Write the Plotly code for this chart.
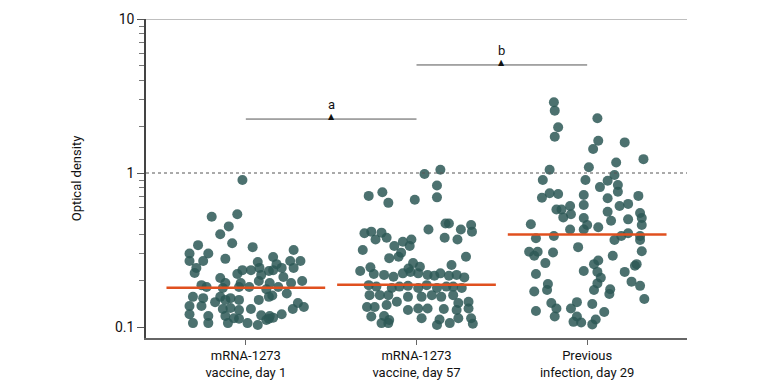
import math
import plotly.graph_objects as go

categories = ["mRNA-1273<br>vaccine, day 1", "mRNA-1273<br>vaccine, day 57", "Previous<br>infection, day 29"]
medians = [0.18, 0.188, 0.398]

g1_jitter = [-0.02, -0.20, -0.05, -0.10, -0.15, -0.08, -0.28, -0.33, -0.22, -0.25, -0.33, -0.12, 0.04, -0.29, -0.30,
             0.28, 0.16, 0.07, 0.18, 0.26, 0.32, 0.03, -0.02, -0.05, 0.08, 0.135, 0.16, 0.21, 0.28, -0.15,
             0.09, 0.22, 0.33, 0.265, 0.076, 0.14, -0.03, -0.12, -0.26, -0.23, 0.02, -0.04, -0.135, 0.19, 0.12,
             0.24, -0.31, -0.25, -0.15, -0.09, -0.04, -0.12, 0.135, 0.155, 0.076, -0.18, 0.305, 0.34, -0.33, -0.26,
             -0.135, -0.09, -0.04, 0.03, 0.275, -0.33, -0.22, -0.12, 0.09, 0.14, 0.21, -0.31, -0.22, -0.105, -0.07,
             -0.04, 0.01, 0.07, 0.12, 0.135, 0.16]
g1_values = [0.90, 0.52, 0.54, 0.45, 0.40, 0.35, 0.34, 0.30, 0.30, 0.268, 0.268, 0.277, 0.33, 0.242, 0.224,
             0.316, 0.285, 0.264, 0.256, 0.268, 0.268, 0.234, 0.234, 0.221, 0.242, 0.231, 0.234, 0.242, 0.242, 0.208,
             0.218, 0.211, 0.199, 0.193, 0.199, 0.193, 0.193, 0.193, 0.187, 0.182, 0.182, 0.182, 0.179, 0.182, 0.176,
             0.165, 0.157, 0.154, 0.157, 0.154, 0.150, 0.150, 0.157, 0.160, 0.150, 0.145, 0.143, 0.135, 0.137, 0.137,
             0.131, 0.133, 0.129, 0.131, 0.131, 0.121, 0.118, 0.118, 0.119, 0.118, 0.121, 0.106, 0.106, 0.106, 0.114,
             0.113, 0.106, 0.103, 0.111, 0.113, 0.115]

g2_jitter = [0.14, 0.047, 0.12, 0.12, -0.28, -0.20, -0.165, -0.01, 0.07, 0.17, 0.19, 0.165, 0.24, 0.26, 0.32,
             0.325, -0.305, -0.265, -0.205, -0.24, -0.175, -0.13, -0.08, -0.03, -0.04, -0.315, -0.09, -0.105, -0.16, 0.29,
             -0.02, 0.02, -0.047, 0.205, -0.33, -0.27, -0.25, -0.19, -0.135, -0.08, -0.035, 0.01, 0.065, 0.105, 0.14,
             0.19, 0.235, 0.28, -0.28, -0.235, -0.145, -0.10, -0.05, 0.01, 0.06, 0.12, 0.175, 0.215, 0.265, -0.275,
             -0.215, -0.165, -0.115, -0.05, 0.03, 0.09, 0.145, 0.215, 0.245, 0.305, -0.29, -0.245, -0.175, -0.05, 0.01,
             0.065, 0.16, 0.235, 0.305, -0.265, -0.19, -0.16, 0.03, 0.135, 0.245, 0.32, -0.205, -0.165, 0.12, 0.195,
             0.33]
g2_values = [1.05, 0.985, 0.83, 0.695, 0.71, 0.75, 0.64, 0.67, 0.43, 0.47, 0.47, 0.38, 0.37, 0.43, 0.46,
             0.416, 0.406, 0.416, 0.41, 0.37, 0.38, 0.336, 0.358, 0.37, 0.336, 0.316, 0.304, 0.286, 0.28, 0.286,
             0.26, 0.246, 0.24, 0.253, 0.231, 0.244, 0.221, 0.218, 0.212, 0.223, 0.228, 0.223, 0.218, 0.215, 0.223,
             0.215, 0.218, 0.21, 0.187, 0.183, 0.179, 0.183, 0.185, 0.179, 0.187, 0.179, 0.183, 0.183, 0.179, 0.161,
             0.161, 0.161, 0.146, 0.157, 0.157, 0.161, 0.157, 0.161, 0.143, 0.146, 0.135, 0.135, 0.139, 0.129, 0.132,
             0.132, 0.131, 0.129, 0.132, 0.117, 0.118, 0.111, 0.114, 0.112, 0.114, 0.114, 0.106, 0.106, 0.103, 0.106,
             0.105]

g3_jitter = [-0.195, -0.19, -0.17, -0.19, 0.06, 0.065, 0.035, 0.22, 0.33, 0.01, 0.17, 0.16, -0.22, -0.26, -0.01,
             0.12, 0.075, 0.18, 0.18, -0.22, -0.265, -0.17, -0.02, 0.12, 0.30, -0.18, -0.15, -0.10, -0.02, 0.19,
             0.24, -0.14, -0.095, 0.12, 0.14, 0.24, 0.31, 0.32, -0.33, -0.02, 0.0, 0.065, -0.10, -0.02, 0.32,
             -0.30, -0.195, 0.16, 0.20, 0.24, 0.31, 0.31, -0.34, -0.29, -0.31, -0.20, -0.053, 0.15, 0.32, -0.245,
             0.04, 0.065, 0.29, -0.30, -0.02, 0.06, 0.08, 0.22, 0.28, 0.26, -0.23, -0.235, -0.31, 0.06, 0.04,
             0.135, 0.13, 0.31, 0.335, -0.21, -0.18, -0.06, -0.095, 0.03, 0.10, -0.30, -0.19, -0.06, -0.08, -0.035,
             0.03, 0.05]
g3_values = [2.88, 2.54, 1.98, 1.72, 2.27, 1.62, 1.43, 1.58, 1.23, 1.09, 1.17, 0.97, 1.05, 0.90, 0.90,
             0.89, 0.81, 0.836, 0.756, 0.738, 0.69, 0.73, 0.72, 0.685, 0.71, 0.58, 0.58, 0.61, 0.62, 0.61,
             0.63, 0.515, 0.54, 0.56, 0.49, 0.50, 0.55, 0.51, 0.465, 0.51, 0.46, 0.444, 0.43, 0.43, 0.46,
             0.377, 0.39, 0.367, 0.39, 0.406, 0.367, 0.39, 0.308, 0.308, 0.29, 0.305, 0.33, 0.29, 0.31, 0.26,
             0.256, 0.27, 0.256, 0.221, 0.231, 0.228, 0.209, 0.228, 0.25, 0.197, 0.19, 0.174, 0.17, 0.192, 0.174,
             0.176, 0.164, 0.185, 0.152, 0.143, 0.132, 0.145, 0.132, 0.141, 0.125, 0.127, 0.117, 0.117, 0.108, 0.107,
             0.104, 0.112]

brackets = [(0, 1, 2.24, "a"), (1, 2, 5.03, "b")]
ytick_vals = [0.1, 1, 10]
ytick_text = ["0.1", "1", "10"]
minor_vals = [0.2, 0.3, 0.4, 0.5, 0.6, 0.7, 0.8, 0.9, 2, 3, 4, 5, 6, 7, 8, 9]

FONT = "Roboto, Liberation Sans, sans-serif"
DOT = "#2d5856"
ORANGE = "#e0501f"

fig = go.Figure()
for i, (jit, vals) in enumerate([(g1_jitter, g1_values), (g2_jitter, g2_values), (g3_jitter, g3_values)]):
    fig.add_trace(go.Scatter(
        x=[i + j for j in jit], y=vals, mode="markers",
        marker=dict(size=10, color=DOT, opacity=0.85, line=dict(width=0)),
        hoverinfo="skip", showlegend=False))

for i, m in enumerate(medians):
    fig.add_trace(go.Scatter(x=[i - 0.465, i + 0.465], y=[m, m], mode="lines",
                             line=dict(color=ORANGE, width=2.5), showlegend=False, hoverinfo="skip"))

for x0, x1, yv, lab in brackets:
    fig.add_trace(go.Scatter(x=[x0, x1], y=[yv, yv], mode="lines",
                             line=dict(color="#555555", width=1), showlegend=False, hoverinfo="skip"))
    fig.add_annotation(x=(x0 + x1) / 2, y=math.log10(yv), text="▲", showarrow=False,
                       yanchor="bottom", yshift=-4, font=dict(family="DejaVu Sans", size=8, color="#111111"))
    fig.add_annotation(x=(x0 + x1) / 2, y=math.log10(yv), text=lab, showarrow=False,
                       yanchor="bottom", yshift=5, font=dict(family=FONT, size=13, color="#111111"))

fig.add_shape(type="line", xref="paper", x0=0, x1=1, yref="y", y0=1, y1=1,
              line=dict(color="#555555", width=1, dash="dot"))
fig.add_shape(type="line", xref="paper", x0=0, x1=1, yref="y", y0=10, y1=10,
              line=dict(color="#aaaaaa", width=1.5))

fig.update_layout(
    width=780, height=386,
    margin=dict(l=146, r=93, t=19, b=48),
    paper_bgcolor="white", plot_bgcolor="white",
    font=dict(family=FONT, size=13, color="#111111"),
    xaxis=dict(range=[-0.585, 2.585], tickvals=[0, 1, 2], ticktext=categories, automargin=False,
               showgrid=False, zeroline=False, showline=True, linecolor="#666666", linewidth=1.5,
               ticks="outside", ticklen=5, tickcolor="#666666", tickfont=dict(size=13)),
    yaxis=dict(type="log", range=[-1.0714, 1], tickvals=ytick_vals, ticktext=ytick_text, automargin=False,
               showgrid=False, zeroline=False, showline=True, linecolor="#444444", linewidth=1.5,
               ticks="outside", ticklen=7, tickcolor="#555555", tickfont=dict(size=14),
               minor=dict(tickvals=minor_vals, ticks="outside", ticklen=5, tickcolor="#777777", showgrid=False),
               title=dict(text="Optical density", font=dict(size=13), standoff=30)),
)

fig.write_html("out.html", config={"displayModeBar": False},
               post_script="document.body.style.margin='0';")
